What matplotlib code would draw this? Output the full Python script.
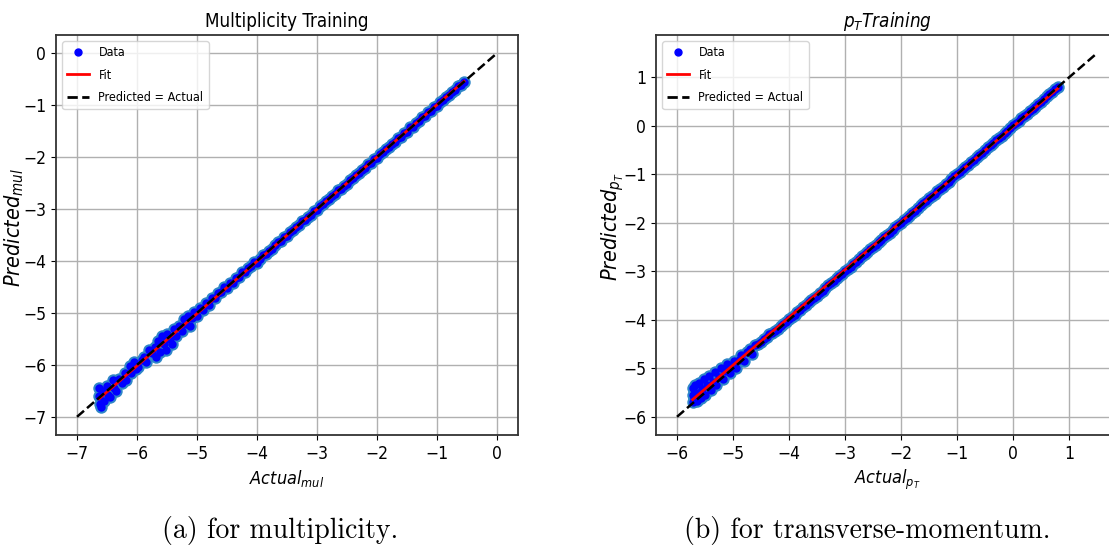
import matplotlib
matplotlib.use("Agg")
import matplotlib.pyplot as plt
from matplotlib.lines import Line2D
import numpy as np

# Multiplicity: actual vs. predicted (log scale values)
mul_actual = [
    -6.63, -6.63, -6.62, -6.60, -6.57, -6.55, -6.50, -6.48, -6.45, -6.40,
    -6.38, -6.35, -6.30, -6.25, -6.20, -6.18, -6.12, -6.10, -6.05, -6.02,
    -5.98, -5.92, -5.88, -5.85, -5.80, -5.75, -5.70, -5.68, -5.65, -5.62,
    -5.58, -5.55, -5.52, -5.50, -5.45, -5.42, -5.38, -5.35, -5.30, -5.25,
    -5.22, -5.18, -5.15, -5.12, -5.08, -5.05, -5.00, -4.95, -4.90, -4.85,
    -4.80, -4.75, -4.70, -4.65, -4.60, -4.55, -4.50, -4.45, -4.40, -4.35,
    -4.30, -4.25, -4.20, -4.15, -4.10, -4.05, -4.00,
    -3.95, -3.90, -3.85, -3.80, -3.75, -3.70, -3.65, -3.60, -3.55, -3.50,
    -3.45, -3.40, -3.35, -3.30, -3.25, -3.20, -3.15, -3.10, -3.05, -3.00,
    -2.95, -2.90, -2.85, -2.80, -2.75, -2.70, -2.65, -2.60, -2.55, -2.50,
    -2.45, -2.40, -2.35, -2.30, -2.25, -2.20, -2.15, -2.10, -2.05, -2.00,
    -1.95, -1.90, -1.85, -1.80, -1.75, -1.70, -1.65, -1.60, -1.55, -1.50,
    -1.45, -1.40, -1.35, -1.30, -1.25, -1.20, -1.15, -1.10, -1.05, -1.00,
    -0.95, -0.90, -0.85, -0.80, -0.75, -0.70, -0.65, -0.60, -0.55,
]
mul_predicted = [
    -6.45, -6.60, -6.75, -6.82, -6.50, -6.70, -6.40, -6.58, -6.62, -6.30,
    -6.45, -6.50, -6.28, -6.35, -6.15, -6.30, -6.02, -6.15, -5.95, -6.08,
    -6.05, -5.90, -5.85, -5.95, -5.72, -5.78, -5.65, -5.85, -5.55, -5.75,
    -5.45, -5.60, -5.72, -5.40, -5.50, -5.60, -5.30, -5.45, -5.25, -5.35,
    -5.12, -5.22, -5.05, -5.25, -5.10, -4.98, -5.05, -4.90, -4.95, -4.80,
    -4.85, -4.72, -4.72, -4.62, -4.60, -4.50, -4.52, -4.42, -4.43, -4.33,
    -4.30, -4.22, -4.22, -4.14, -4.10, -4.02, -4.03,
    -3.97, -3.88, -3.86, -3.80, -3.77, -3.69, -3.64, -3.61, -3.54, -3.51,
    -3.44, -3.41, -3.34, -3.31, -3.24, -3.21, -3.15, -3.11, -3.04, -3.01,
    -2.94, -2.91, -2.84, -2.81, -2.74, -2.71, -2.64, -2.61, -2.55, -2.51,
    -2.44, -2.41, -2.34, -2.31, -2.24, -2.21, -2.14, -2.11, -2.04, -2.01,
    -1.94, -1.91, -1.84, -1.81, -1.74, -1.71, -1.63, -1.61, -1.53, -1.52,
    -1.43, -1.42, -1.34, -1.31, -1.23, -1.21, -1.14, -1.12, -1.03, -1.02,
    -0.94, -0.91, -0.84, -0.81, -0.74, -0.71, -0.64, -0.61, -0.55,
]

# Transverse momentum: actual vs. predicted
pt_actual = [
    -5.72, -5.72, -5.71, -5.70, -5.68, -5.65, -5.62, -5.60, -5.58, -5.55,
    -5.52, -5.50, -5.46, -5.42, -5.40, -5.36, -5.32, -5.30, -5.25, -5.22,
    -5.18, -5.14, -5.10, -5.06, -5.02, -4.98, -4.94, -4.90, -4.85, -4.80,
    -4.75, -4.70, -4.66, -4.60, -4.55, -4.50, -4.45, -4.40, -4.35, -4.30,
    -4.25,
    -4.20, -4.15, -4.10, -4.05, -4.00, -3.95, -3.90, -3.85, -3.80, -3.75,
    -3.70, -3.65, -3.60, -3.55, -3.50, -3.45, -3.40, -3.35, -3.30, -3.25,
    -3.20, -3.15, -3.10, -3.05, -3.00, -2.95, -2.90, -2.85, -2.80, -2.75,
    -2.70, -2.65, -2.60, -2.55, -2.50, -2.45, -2.40, -2.35, -2.30, -2.25,
    -2.20, -2.15, -2.10, -2.05, -2.00, -1.95, -1.90, -1.85, -1.80, -1.75,
    -1.70, -1.65, -1.60, -1.55, -1.50, -1.45, -1.40, -1.35, -1.30, -1.25,
    -1.20, -1.15, -1.10, -1.05, -1.00, -0.95, -0.90, -0.85, -0.80, -0.75,
    -0.70, -0.65, -0.60, -0.55, -0.50, -0.45, -0.40, -0.35, -0.30, -0.25,
    -0.20, -0.15, -0.10, -0.05, 0.00, 0.05, 0.10, 0.15, 0.20, 0.25,
    0.30, 0.35, 0.40, 0.45, 0.50, 0.55, 0.60, 0.65, 0.70, 0.75,
    0.80,
]
pt_predicted = [
    -5.70, -5.55, -5.40, -5.62, -5.35, -5.68, -5.50, -5.30, -5.62, -5.42,
    -5.22, -5.55, -5.35, -5.15, -5.45, -5.28, -5.08, -5.35, -5.18, -5.00,
    -5.22, -5.05, -4.92, -5.10, -4.95, -4.85, -5.00, -4.82, -4.72, -4.85,
    -4.66, -4.60, -4.70, -4.52, -4.50, -4.45, -4.40, -4.36, -4.30, -4.28,
    -4.22,
    -4.18, -4.13, -4.09, -4.04, -3.99, -3.94, -3.90, -3.84, -3.80, -3.74,
    -3.70, -3.64, -3.60, -3.55, -3.50, -3.44, -3.40, -3.35, -3.29, -3.25,
    -3.20, -3.14, -3.10, -3.05, -2.99, -2.95, -2.90, -2.84, -2.80, -2.75,
    -2.69, -2.65, -2.60, -2.54, -2.50, -2.45, -2.39, -2.35, -2.30, -2.24,
    -2.20, -2.15, -2.09, -2.05, -2.00, -1.94, -1.90, -1.85, -1.79, -1.75,
    -1.70, -1.64, -1.60, -1.55, -1.49, -1.45, -1.40, -1.34, -1.30, -1.25,
    -1.19, -1.15, -1.10, -1.04, -1.00, -0.95, -0.89, -0.85, -0.80, -0.74,
    -0.70, -0.65, -0.59, -0.55, -0.50, -0.44, -0.40, -0.35, -0.29, -0.25,
    -0.20, -0.14, -0.10, -0.05, 0.01, 0.05, 0.10, 0.16, 0.20, 0.25,
    0.31, 0.35, 0.40, 0.46, 0.50, 0.55, 0.61, 0.65, 0.70, 0.76,
    0.80,
]

# Extent of the "Predicted = Actual" line on each panel
mul_ref_range = [-7.0, 0.0]
pt_ref_range = [-6.0, 1.5]

titles = ["Multiplicity Training", r"$p_T Training$"]
xlabels = [r"$Actual_{mul}$", r"$Actual_{p_T}$"]
ylabels = [r"$Predicted_{mul}$", r"$Predicted_{p_T}$"]
captions = ["(a) for multiplicity.", "(b) for transverse-momentum."]

plt.rcParams["font.family"] = ["DejaVu Sans"]
plt.rcParams["font.stretch"] = "condensed"

W, H = 1109, 556
fig = plt.figure(figsize=(W / 100, H / 100), dpi=100)

# axes rectangles in pixels: left, top, width, height
rects = [(56, 35, 462, 400), (656, 35, 462, 400)]
caption_x = [280, 867]
panels = [
    (mul_actual, mul_predicted, mul_ref_range, [-7, -6, -5, -4, -3, -2, -1, 0]),
    (pt_actual, pt_predicted, pt_ref_range, [-6, -5, -4, -3, -2, -1, 0, 1]),
]

for i, ((xa, ya, ref, ticks), (l, t, w, h)) in enumerate(zip(panels, rects)):
    ax = fig.add_axes([l / W, (H - t - h) / H, w / W, h / H])
    xa = np.asarray(xa)
    ya = np.asarray(ya)

    # scatter: light-blue rim underneath, solid blue core on top
    ax.scatter(xa, ya, s=80, color="#2f86c8", linewidths=0, zorder=2)
    ax.scatter(xa, ya, s=36, color="blue", linewidths=0, zorder=3)

    # linear fit over the data range
    slope, intercept = np.polyfit(xa, ya, 1)
    xf = np.array([xa.min(), xa.max()])
    ax.plot(xf, slope * xf + intercept, color="red", lw=2, zorder=4)

    # identity line
    ax.plot(ref, ref, "k--", lw=1.8, zorder=5)

    span = ref[1] - ref[0]
    lim = (ref[0] - 0.05 * span, ref[1] + 0.05 * span)
    ax.set_xlim(lim)
    ax.set_ylim(lim)
    ax.set_xticks(ticks)
    ax.set_yticks(ticks)
    ax.grid(True, color="#b0b0b0", lw=1.0)
    ax.set_axisbelow(True)
    ax.tick_params(labelsize=12.5)
    for sp in ax.spines.values():
        sp.set_linewidth(1.3)
        sp.set_color("#333333")

    ax.set_title(titles[i], fontsize=13.5, pad=6)
    ax.set_xlabel(xlabels[i], fontsize=13)
    ax.set_ylabel(ylabels[i], fontsize=15.5, stretch="normal")
    ax.yaxis.set_label_coords(-0.066, 0.52)

    handles = [
        Line2D([], [], marker="o", ls="none", color="blue", markersize=5),
        Line2D([], [], color="red", lw=2),
        Line2D([], [], color="k", ls="--", lw=2),
    ]
    ax.legend(handles, ["Data", "Fit", "Predicted = Actual"], loc="upper left",
              fontsize=9, framealpha=0.8, labelspacing=0.75, handlelength=1.7)

    fig.text(caption_x[i] / W, 0.045, captions[i],
             family="cmr10", fontsize=20, ha="center", va="center",
             stretch="normal")

fig.savefig("out.png", dpi=100)
